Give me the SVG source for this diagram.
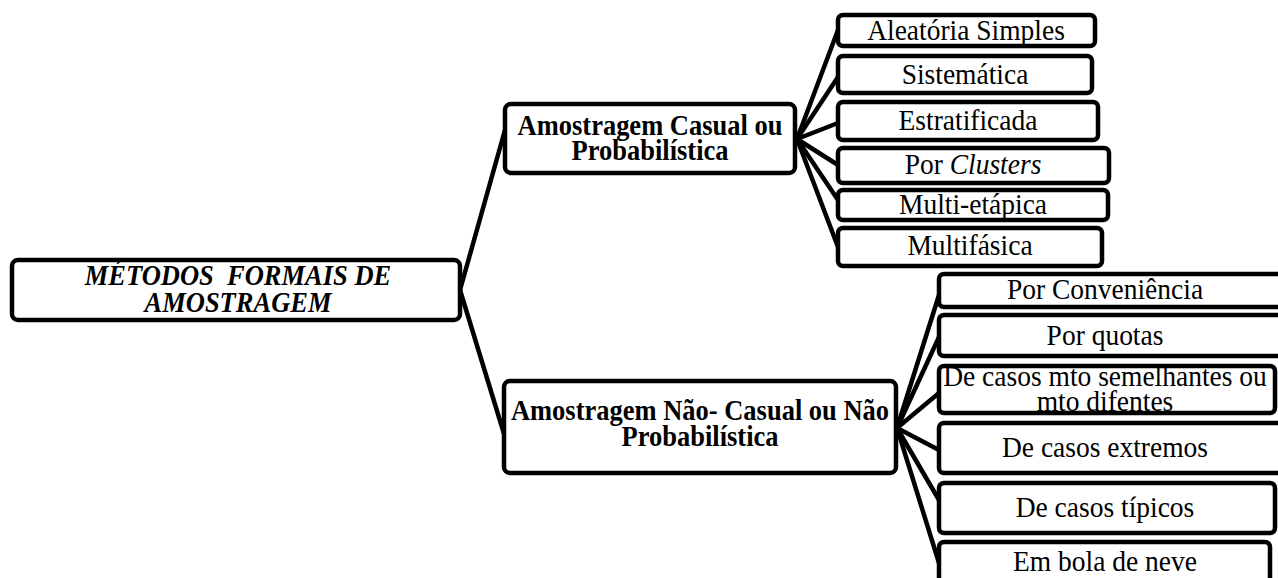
<svg xmlns="http://www.w3.org/2000/svg" width="1278" height="578" viewBox="0 0 1278 578">
<style>
.box{fill:#fff;stroke:#000;stroke-width:4.5}
.bd{fill:none;stroke:#000;stroke-width:4.5}
.ln{stroke:#000;stroke-width:4.5;fill:none;stroke-linecap:round}
.t{font-family:"Liberation Serif","Times New Roman",serif;font-size:27.5px;fill:#000;text-anchor:middle}
.b{font-weight:bold;font-size:26.5px}
.bi{font-weight:bold;font-style:italic;font-size:26.5px}
</style>
<rect width="1278" height="578" fill="#fff"/>
<g id="connectors">
<line class="ln" x1="460" y1="290" x2="505" y2="130"/>
<line class="ln" x1="460" y1="290" x2="505" y2="437"/>
<line class="ln" x1="797" y1="139" x2="838" y2="30"/>
<line class="ln" x1="797" y1="139" x2="838" y2="77"/>
<line class="ln" x1="797" y1="139" x2="838" y2="123"/>
<line class="ln" x1="797" y1="139" x2="838" y2="165"/>
<line class="ln" x1="797" y1="139" x2="838" y2="200"/>
<line class="ln" x1="797" y1="139" x2="838" y2="247"/>
<line class="ln" x1="897" y1="428" x2="939" y2="295"/>
<line class="ln" x1="897" y1="428" x2="939" y2="337"/>
<line class="ln" x1="897" y1="428" x2="939" y2="393"/>
<line class="ln" x1="897" y1="428" x2="939" y2="450"/>
<line class="ln" x1="897" y1="428" x2="939" y2="500"/>
<line class="ln" x1="897" y1="428" x2="939" y2="563"/>
</g>
<g id="root">
<rect class="box" x="12" y="260" width="448" height="60" rx="6"/>
<text class="t bi" transform="translate(238,285) scale(1,1.1)" xml:space="preserve">MÉTODOS  FORMAIS DE</text>
<text class="t bi" transform="translate(238,312) scale(1,1.1)">AMOSTRAGEM</text>
</g>
<g id="casual">
<rect class="box" x="505" y="104" width="290" height="69" rx="6"/>
<text class="t b" transform="translate(650,135) scale(1,1.1)">Amostragem Casual ou</text>
<text class="t b" transform="translate(650,160) scale(1,1.1)">Probabilística</text>
</g>
<g id="naocasual">
<rect class="box" x="504" y="381" width="392" height="92" rx="6"/>
<text class="t b" transform="translate(700,420) scale(1,1.1)">Amostragem Não- Casual ou Não</text>
<text class="t b" transform="translate(700,446) scale(1,1.1)">Probabilística</text>
</g>
<g id="aleatoria">
<rect class="box" x="838" y="15" width="257" height="31" rx="5"/>
<text class="t" transform="translate(966,40) scale(1,1.1)">Aleatória Simples</text>
</g>
<g id="sistematica">
<rect class="box" x="838" y="56" width="254" height="37" rx="5"/>
<text class="t" transform="translate(965,84) scale(1,1.1)">Sistemática</text>
</g>
<g id="estratificada">
<rect class="box" x="838" y="102" width="260" height="38" rx="5"/>
<text class="t" transform="translate(968,130) scale(1,1.1)">Estratificada</text>
</g>
<g id="clusters">
<rect class="box" x="838" y="148" width="271" height="35" rx="5"/>
<text class="t" transform="translate(973,174) scale(1,1.1)">Por <tspan font-style="italic">Clusters</tspan></text>
</g>
<g id="multietapica">
<rect class="box" x="838" y="190" width="270" height="30" rx="5"/>
<text class="t" transform="translate(973,214) scale(1,1.1)">Multi-etápica</text>
</g>
<g id="multifasica">
<rect class="box" x="838" y="228" width="264" height="38" rx="5"/>
<text class="t" transform="translate(970,255) scale(1,1.1)">Multifásica</text>
</g>
<g id="conveniencia">
<rect class="box" x="939" y="274" width="360" height="33" rx="5"/>
<text class="t" transform="translate(1105,299) scale(1,1.1)">Por Conveniência</text>
</g>
<g id="quotas">
<rect class="box" x="939" y="315" width="360" height="41" rx="5"/>
<text class="t" transform="translate(1105,345) scale(1,1.1)">Por quotas</text>
</g>
<g id="semelhantes">
<rect x="939" y="366" width="336" height="47" rx="5" fill="#fff"/>
<text class="t" transform="translate(1105,386) scale(1,1.1)">De casos mto semelhantes ou</text>
<text class="t" transform="translate(1105,411) scale(1,1.1)">mto difentes</text>
<rect class="bd" x="939" y="366" width="336" height="47" rx="5"/>
</g>
<g id="extremos">
<rect class="box" x="939" y="423" width="360" height="50" rx="5"/>
<text class="t" transform="translate(1105,457) scale(1,1.1)">De casos extremos</text>
</g>
<g id="tipicos">
<rect class="box" x="939" y="483" width="336" height="50" rx="5"/>
<text class="t" transform="translate(1105,517) scale(1,1.1)">De casos típicos</text>
</g>
<g id="bola">
<rect class="box" x="939" y="542" width="331" height="60" rx="5"/>
<text class="t" transform="translate(1105,571) scale(1,1.1)">Em bola de neve</text>
</g>
</svg>
